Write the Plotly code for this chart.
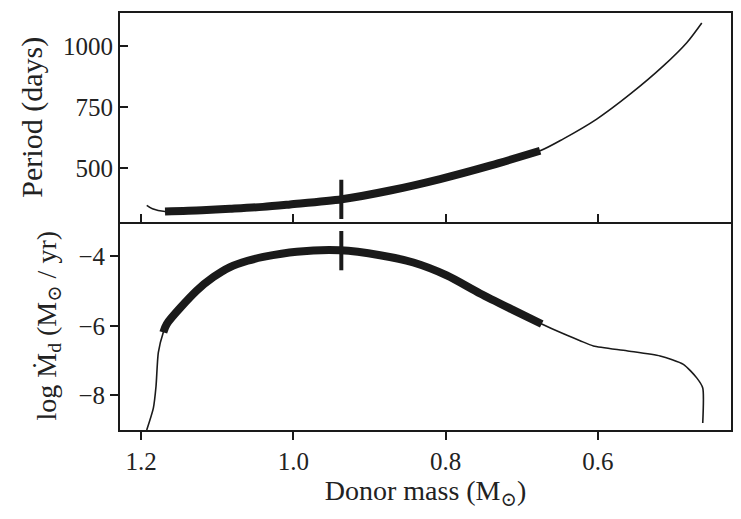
import plotly.graph_objects as go
from plotly.subplots import make_subplots

# ---- data ----
mass_period = [1.1925, 1.185, 1.1685, 1.12, 1.0831, 1.04, 1.0043, 0.9364, 0.873,
               0.8073, 0.7417, 0.676, 0.6454, 0.6016, 0.5578, 0.5141, 0.4834, 0.4637]
period_days = [348, 334, 323, 328, 334, 342, 352, 373, 409,
               456, 511, 572, 621, 702, 804, 920, 1015, 1096]

mass_mdot = [1.1925, 1.1838, 1.1803, 1.1773, 1.1707, 1.1662, 1.1269, 1.105, 1.0831,
             1.06, 1.0394, 0.9955, 0.9387, 0.8861, 0.8424, 0.7986, 0.7548, 0.7111,
             0.6738, 0.6498, 0.6235, 0.606, 0.5622, 0.5184, 0.4878, 0.4703, 0.4624,
             0.4624]
log_mdot = [-9.0, -8.37, -7.74, -6.77, -6.19, -5.95, -4.99, -4.60, -4.31,
            -4.13, -4.02, -3.87, -3.83, -3.97, -4.18, -4.55, -5.07, -5.55,
            -5.95, -6.19, -6.43, -6.58, -6.72, -6.87, -7.11, -7.50, -7.79,
            -8.80]

# phase of fast mass transfer (thick segment)
thick_mass_max = 1.1685
thick_mass_min = 0.6738

# marked epoch
mark_mass = [0.937]
mark_period = [373]
mark_logmdot = [-3.84]

x_ticks = [1.2, 1.0, 0.8, 0.6]
x_ticktext = ["1.2", "1.0", "0.8", "0.6"]
p_ticks = [500, 750, 1000]
m_ticks = [-8, -6, -4]


def thick_subset(xs, ys):
    sx, sy = [], []
    for a, b in zip(xs, ys):
        if thick_mass_min - 3e-3 <= a <= thick_mass_max + 3e-3:
            sx.append(a)
            sy.append(b)
    return sx, sy


INK = "#1a1a1a"
TXT = "#222222"
FONT = "Liberation Serif, DejaVu Serif, serif"

fig = make_subplots(rows=2, cols=1, shared_xaxes=True, vertical_spacing=0)

# top panel
fig.add_trace(go.Scatter(x=mass_period, y=period_days, mode="lines",
                         line=dict(color=INK, width=1.6, shape="spline", smoothing=0.8),
                         showlegend=False), row=1, col=1)
tx, ty = thick_subset(mass_period, period_days)
fig.add_trace(go.Scatter(x=tx, y=ty, mode="lines",
                         line=dict(color=INK, width=8, shape="spline", smoothing=0.8),
                         showlegend=False), row=1, col=1)
fig.add_trace(go.Scatter(x=mark_mass, y=mark_period, mode="markers",
                         marker=dict(symbol="line-ns", size=28, line=dict(color=INK, width=4)),
                         showlegend=False), row=1, col=1)

# bottom panel
fig.add_trace(go.Scatter(x=mass_mdot, y=log_mdot, mode="lines",
                         line=dict(color=INK, width=1.6, shape="spline", smoothing=0.6),
                         showlegend=False), row=2, col=1)
bx, by = thick_subset(mass_mdot, log_mdot)
fig.add_trace(go.Scatter(x=bx, y=by, mode="lines",
                         line=dict(color=INK, width=8, shape="spline", smoothing=0.8),
                         showlegend=False), row=2, col=1)
fig.add_trace(go.Scatter(x=mark_mass, y=mark_logmdot, mode="markers",
                         marker=dict(symbol="line-ns", size=28, line=dict(color=INK, width=4)),
                         showlegend=False), row=2, col=1)

axis_common = dict(showline=True, linecolor=INK, linewidth=2,
                   showgrid=False, zeroline=False, ticklen=8, tickwidth=1.5,
                   tickcolor=INK, automargin=False,
                   tickfont=dict(family=FONT, size=25, color=TXT))

fig.update_xaxes(range=[1.2276, 0.4253], tickvals=x_ticks, ticktext=x_ticktext, **axis_common)
fig.update_xaxes(ticks="inside", showticklabels=False, mirror=True, row=1, col=1)
fig.update_xaxes(ticks="outside", mirror=False, row=2, col=1,
                 title=dict(text="Donor mass (M<sub>⊙</sub>)",
                            font=dict(family=FONT, size=28, color=TXT), standoff=4))

fig.update_yaxes(mirror=True, **axis_common)
fig.update_yaxes(range=[282, 1137], tickvals=p_ticks, ticks="inside", row=1, col=1,
                 title=dict(text="Period (days)",
                            font=dict(family=FONT, size=30, color=TXT), standoff=12))
fig.update_yaxes(range=[-9, -3], tickvals=m_ticks, ticks="outside", row=2, col=1,
                 title=dict(text="log Ṁ<sub>d</sub> (M<sub>⊙</sub> / yr)",
                            font=dict(family=FONT, size=28, color=TXT), standoff=14))

fig.update_layout(width=741, height=519, plot_bgcolor="white", paper_bgcolor="white",
                  font=dict(family=FONT, color=TXT),
                  margin=dict(l=120, r=10, t=13, b=89))

fig.write_html("out.html", config={"displayModeBar": False},
               post_script="document.body.style.margin='0';")
